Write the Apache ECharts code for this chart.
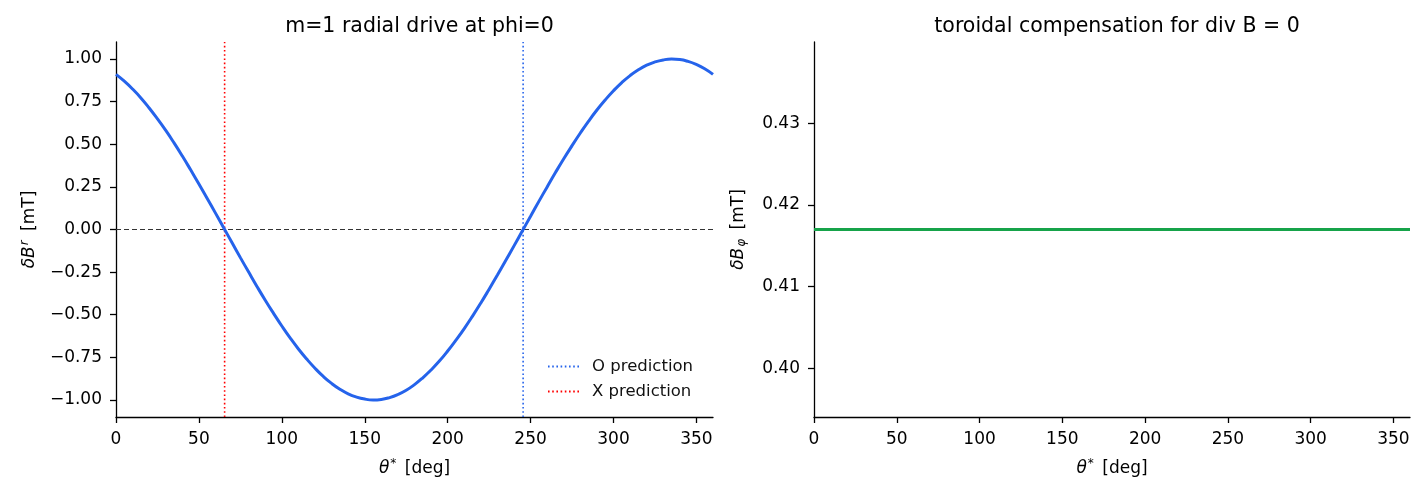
<!DOCTYPE html>
<html>
<head>
<meta charset="utf-8">
<script src="https://cdn.jsdelivr.net/npm/echarts@6/dist/echarts.min.js"></script>
<style>
html,body{margin:0;padding:0;background:#fff;}
#c{width:1427px;height:497px;}
</style>
</head>
<body>
<div id="c"></div>
<script>
// theta* samples (deg)
const theta = [0,5,10,15,20,25,30,35,40,45,50,55,60,65,70,75,80,85,90,95,100,105,110,115,120,125,130,135,140,145,150,155,160,165,170,175,180,185,190,195,200,205,210,215,220,225,230,235,240,245,250,255,260,265,270,275,280,285,290,295,300,305,310,315,320,325,330,335,340,345,350,355,360];
// radial drive dB^r [mT]
const brValues = [0.910,0.870,0.824,0.772,0.713,0.649,0.581,0.508,0.431,0.350,0.267,0.182,0.096,0.009,-0.078,-0.165,-0.250,-0.334,-0.415,-0.492,-0.566,-0.636,-0.701,-0.760,-0.814,-0.862,-0.903,-0.937,-0.964,-0.983,-0.995,-1.000,-0.997,-0.986,-0.968,-0.943,-0.910,-0.870,-0.824,-0.772,-0.713,-0.649,-0.581,-0.508,-0.431,-0.350,-0.267,-0.182,-0.096,-0.009,0.078,0.165,0.250,0.334,0.415,0.492,0.566,0.636,0.701,0.760,0.814,0.862,0.903,0.937,0.964,0.983,0.995,1.000,0.997,0.986,0.968,0.943,0.910];
// toroidal compensation dB_phi [mT]
const bphiTheta = [0, 360];
const bphiValues = [0.417, 0.417];
// predictions (deg)
const oPrediction = 245.5;
const xPrediction = 65.5;
// tick labels
const xTicks = [0,50,100,150,200,250,300,350];
const yTicksLeft = [-1.00,-0.75,-0.50,-0.25,0.00,0.25,0.50,0.75,1.00];
const yTicksRight = [0.40,0.41,0.42,0.43];

const FONT = 'DejaVu Sans';
const TICK_FS = 17;
const NAME_FS = 17;
const fmtNum = d => v => { const s = Math.abs(v).toFixed(d); return (v < -1e-9 ? '\u2212' : '') + s; };

const chart = echarts.init(document.getElementById('c'), null, {renderer: 'canvas'});

function xAxis(gridIndex) {
  return {
    gridIndex, type: 'value', min: 0, max: 360,
    name: '{i|θ}{sup|*} [deg]', nameLocation: 'middle', nameGap: 41,
    nameTextStyle: {color: '#000', fontFamily: FONT, fontSize: NAME_FS,
      rich: {i: {fontStyle: 'italic', fontFamily: FONT, fontSize: NAME_FS, color:'#000'},
             sup: {fontSize: 12, fontFamily: FONT, color:'#000', verticalAlign: 'top', padding: [0,3,9,1]}}},
    axisLine: {show: true, onZero: false, lineStyle: {color: '#000', width: 1.3}},
    axisTick: {show: true, length: 6, customValues: xTicks, lineStyle: {color: '#000', width: 1.3}},
    axisLabel: {customValues: xTicks, color: '#000', fontFamily: FONT, fontSize: TICK_FS, margin: 14, formatter: v => String(v)},
    splitLine: {show: false}
  };
}

const option = {
  animation: false,
  backgroundColor: '#fff',
  title: [
    {text: 'm=1 radial drive at phi=0', left: 414.5, top: 11, textAlign: 'center',
     textStyle: {fontFamily: FONT, fontSize: 20.5, fontWeight: 'normal', color: '#000'}},
    {text: 'toroidal compensation for div B = 0', left: 1112, top: 11, textAlign: 'center',
     textStyle: {fontFamily: FONT, fontSize: 20.5, fontWeight: 'normal', color: '#000'}}
  ],
  grid: [
    {left: 116, right: 714, top: 42, bottom: 80},
    {left: 814, right: 17, top: 42, bottom: 80}
  ],
  legend: {
    orient: 'vertical', left: 547, top: 358, padding: 0, itemGap: 8, itemWidth: 33, itemHeight: 12,
    data: ['O prediction', 'X prediction'],
    textStyle: {fontFamily: FONT, fontSize: 16.5, color: '#111', padding: [0,0,0,6]},
    itemStyle: {opacity: 0}
  },
  xAxis: [xAxis(0), xAxis(1)],
  yAxis: [
    {gridIndex: 0, type: 'value', min: -1.1, max: 1.1,
     name: '{i|δB}{sup|r} [mT]', nameLocation: 'middle', nameGap: 76, nameRotate: 90,
     nameTextStyle: {color: '#000', fontFamily: FONT, fontSize: NAME_FS,
       rich: {i: {fontStyle: 'italic', fontFamily: FONT, fontSize: NAME_FS, color:'#000'},
              sup: {fontStyle: 'italic', fontSize: 12, fontFamily: FONT, color:'#000', verticalAlign: 'top', padding: [0,4,9,1]}}},
     axisLine: {show: true, onZero: false, lineStyle: {color: '#000', width: 1.3}},
     axisTick: {show: true, length: 6, customValues: yTicksLeft, lineStyle: {color: '#000', width: 1.3}},
     axisLabel: {customValues: yTicksLeft, color: '#000', fontFamily: FONT, fontSize: TICK_FS, margin: 14, formatter: fmtNum(2)},
     splitLine: {show: false}},
    {gridIndex: 1, type: 'value', min: 0.394, max: 0.44,
     name: '{i|δB}{sub|φ} [mT]', nameLocation: 'middle', nameGap: 66, nameRotate: 90,
     nameTextStyle: {color: '#000', fontFamily: FONT, fontSize: NAME_FS,
       rich: {i: {fontStyle: 'italic', fontFamily: FONT, fontSize: NAME_FS, color:'#000'},
              sub: {fontStyle: 'italic', fontSize: 12, fontFamily: FONT, color:'#000', verticalAlign: 'bottom', padding: [7,4,0,1]}}},
     axisLine: {show: true, onZero: false, lineStyle: {color: '#000', width: 1.3}},
     axisTick: {show: true, length: 6, customValues: yTicksRight, lineStyle: {color: '#000', width: 1.3}},
     axisLabel: {customValues: yTicksRight, color: '#000', fontFamily: FONT, fontSize: TICK_FS, margin: 14, formatter: fmtNum(2)},
     splitLine: {show: false}}
  ],
  series: [
    {name: 'zero', type: 'line', xAxisIndex: 0, yAxisIndex: 0, symbol: 'none', silent: true,
     data: [[0, 0], [360, 0]], lineStyle: {color: '#333', width: 1.1, type: [5, 3]}, z: 1},
    {name: 'O prediction', type: 'line', xAxisIndex: 0, yAxisIndex: 0, symbol: 'none',
     data: [[oPrediction, -1.1], [oPrediction, 1.1]], itemStyle: {color: '#2563eb'},
     lineStyle: {color: '#2563eb', width: 1.6, type: [1.6, 2.6]}, z: 2},
    {name: 'X prediction', type: 'line', xAxisIndex: 0, yAxisIndex: 0, symbol: 'none',
     data: [[xPrediction, -1.1], [xPrediction, 1.1]], itemStyle: {color: '#f00'},
     lineStyle: {color: '#f00', width: 1.6, type: [1.6, 2.6]}, z: 2},
    {name: 'br', type: 'line', xAxisIndex: 0, yAxisIndex: 0, symbol: 'none', smooth: true,
     data: theta.map((t, i) => [t, brValues[i]]), lineStyle: {color: '#2563eb', width: 3}, z: 3},
    {name: 'bphi', type: 'line', xAxisIndex: 1, yAxisIndex: 1, symbol: 'none',
     data: bphiTheta.map((t, i) => [t, bphiValues[i]]), lineStyle: {color: '#16a34a', width: 3}, z: 3}
  ]
};
chart.setOption(option);
</script>
</body>
</html>
